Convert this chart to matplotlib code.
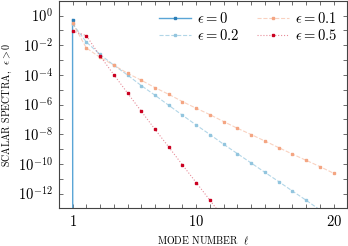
import matplotlib
matplotlib.use("Agg")
import matplotlib.pyplot as plt
from matplotlib.ticker import NullFormatter

plt.rcParams['font.family'] = 'cmr10'
plt.rcParams['mathtext.fontset'] = 'cm'
plt.rcParams['axes.formatter.use_mathtext'] = True

# mode numbers
ell = list(range(1, 21))

# spectra, eps = 0 is zero after l = 1
eps0 = [0.54, 0, 0, 0, 0, 0, 0, 0, 0, 0, 0, 0, 0, 0, 0, 0, 0, 0, 0, 0]
eps01 = [10**-0.50, 10**-2.18, 10**-2.82, 10**-3.34, 10**-3.89, 10**-4.36, 10**-4.86,
         10**-5.31, 10**-5.80, 10**-6.25, 10**-6.68, 10**-7.15, 10**-7.60, 10**-8.02,
         10**-8.46, 10**-8.90, 10**-9.34, 10**-9.76, 10**-10.18, 10**-10.63]
eps02 = [10**-0.55, 10**-1.78, 10**-2.62, 10**-3.34, 10**-4.01, 10**-4.72, 10**-5.37,
         10**-6.05, 10**-6.72, 10**-7.38, 10**-8.02, 10**-8.68, 10**-9.31, 10**-9.94,
         10**-10.57, 10**-11.19, 10**-11.83, 10**-12.45, 10**-13.10, 10**-13.75]
eps05 = [10**-1.04, 10**-1.35, 10**-2.72, 10**-3.98, 10**-5.22, 10**-6.45, 10**-7.67,
         10**-8.86, 10**-10.07, 10**-11.26, 10**-12.45, 10**-13.65, 10**-14.85]
ell05 = ell[:len(eps05)]

fig = plt.figure(figsize=(3.48, 2.46), dpi=100)
ax = fig.add_axes([0.169, 0.153, 0.829, 0.844])
ax.set_yscale('log')

ax.plot(ell, eps0, '-', color='#5aa5d6', lw=1.0, marker='s', ms=1.7,
        mfc='#2c7fb8', mec='#2c7fb8', label=r'$\epsilon = 0$')
ax.plot(ell, eps02, '--', color=(0.573, 0.773, 0.871, 0.7), lw=0.8, marker='s', ms=1.7,
        mfc='#92c5de', mec='#92c5de', label=r'$\epsilon = 0.2$')
ax.plot(ell, eps01, '--', color=(0.957, 0.647, 0.51, 0.5), lw=0.8, marker='s', ms=1.7,
        mfc='#f4a582', mec='#f4a582', label=r'$\epsilon = 0.1$')
ax.plot(ell05, eps05, ':', color=(0.792, 0.0, 0.125, 0.45), lw=0.8, marker='s', ms=1.7,
        mfc='#ca0020', mec='#ca0020', label=r'$\epsilon = 0.5$')

ax.set_xlim(0, 21)
ax.set_ylim(1e-13, 1e1)
ax.set_xticks([1, 10, 20])
ax.set_xticks(ell, minor=True)
ax.set_yticks([10.0**e for e in [0, -2, -4, -6, -8, -10, -12]])
ax.set_yticks([10.0**e for e in [1, -1, -3, -5, -7, -9, -11, -13]], minor=True)
ax.yaxis.set_minor_formatter(NullFormatter())

for s in ax.spines.values():
    s.set_color('#444444')
    s.set_linewidth(0.8)
ax.tick_params(which='both', direction='in', top=True, right=True, length=3,
               width=0.6, color='#555555', labelsize=10.5, pad=4)

ax.set_xlabel(r'MODE NUMBER  $\ell$', fontsize=7.2, labelpad=4)
ax.set_ylabel(r'SCALAR SPECTRA,  $\epsilon > 0$', fontsize=7.2, labelpad=3)

ax.legend(loc='upper right', ncol=2, frameon=False, fontsize=10.5, handlelength=2.2,
          columnspacing=1.2, labelspacing=0.15, borderaxespad=0.3, handletextpad=0.4)

fig.savefig('out.png', dpi=100)
